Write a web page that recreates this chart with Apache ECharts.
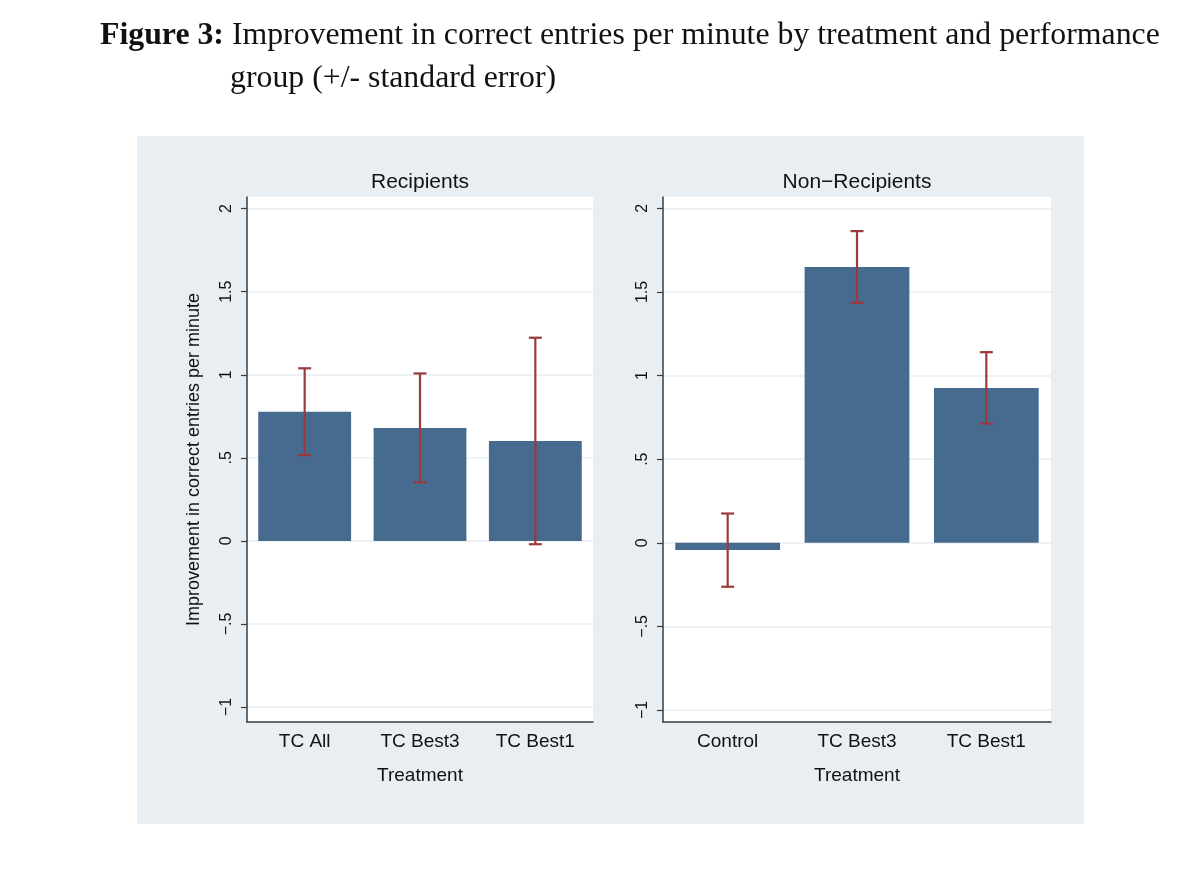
<!DOCTYPE html>
<html>
<head>
<meta charset="utf-8">
<script src="https://cdn.jsdelivr.net/npm/echarts@6/dist/echarts.min.js"></script>
<style>
html,body{margin:0;padding:0;background:#ffffff;}
#chart{width:1200px;height:887px;}
</style>
</head>
<body>
<div id="chart"></div>
<script>
// ---- data ----
var recipCategories = ['TC All', 'TC Best3', 'TC Best1'];
var recipMeans = [0.777, 0.680, 0.602];
var recipLow = [0.516, 0.352, -0.020];
var recipHigh = [1.039, 1.008, 1.223];

var nonRecipCategories = ['Control', 'TC Best3', 'TC Best1'];
var nonRecipMeans = [-0.044, 1.650, 0.926];
var nonRecipLow = [-0.263, 1.435, 0.713];
var nonRecipHigh = [0.175, 1.864, 1.140];

var yTickValues = [-1, -0.5, 0, 0.5, 1, 1.5, 2];
var yTickLabels = ['\u22121', '\u2212.5', '0', '.5', '1', '1.5', '2'];

var panelTitles = ['Recipients', 'Non\u2212Recipients'];
var yTitle = 'Improvement in correct entries per minute';
var xTitle = 'Treatment';

// ---- helpers ----
function fmtTick(v) {
  for (var i = 0; i < yTickValues.length; i++) {
    if (Math.abs(yTickValues[i] - v) < 1e-6) return yTickLabels[i];
  }
  return '';
}
function errData(low, high) {
  return low.map(function (l, i) { return [i, l, high[i]]; });
}
function errRender(params, api) {
  var x = api.value(0);
  var lo = api.coord([x, api.value(1)]);
  var hi = api.coord([x, api.value(2)]);
  var half = 6.5;
  var style = { stroke: '#9b3a3d', lineWidth: 2.2 };
  return {
    type: 'group',
    children: [
      { type: 'line', shape: { x1: hi[0], y1: hi[1], x2: lo[0], y2: lo[1] }, style: style },
      { type: 'line', shape: { x1: hi[0] - half, y1: hi[1], x2: hi[0] + half, y2: hi[1] }, style: style },
      { type: 'line', shape: { x1: lo[0] - half, y1: lo[1], x2: lo[0] + half, y2: lo[1] }, style: style }
    ]
  };
}
var fontSans = 'Liberation Sans, Arial, Helvetica, sans-serif';
var fontSerif = 'Liberation Serif, Times New Roman, serif';

function xAxisCfg(gi, cats) {
  return {
    type: 'category', gridIndex: gi, data: cats,
    axisLine: { show: true, onZero: false, lineStyle: { color: '#3a3a3a', width: 1.5 } },
    axisTick: { show: false },
    axisLabel: { color: '#111', fontSize: 19, fontFamily: fontSans, margin: 10 },
    name: xTitle, nameLocation: 'middle', nameGap: 44,
    nameTextStyle: { color: '#111', fontSize: 19, fontFamily: fontSans },
    splitLine: { show: false }
  };
}
function yAxisCfg(gi, mn, mx, withName) {
  var cfg = {
    type: 'value', gridIndex: gi, min: mn, max: mx,
    axisLine: { show: true, lineStyle: { color: '#3a3a3a', width: 1.5 } },
    axisTick: { show: true, length: 6, inside: false, customValues: yTickValues, lineStyle: { color: '#3a3a3a', width: 1.2 } },
    axisLabel: { customValues: yTickValues, rotate: 90, margin: 12, color: '#111', fontSize: 16, fontFamily: fontSans, formatter: fmtTick },
    splitLine: { show: true, lineStyle: { color: '#e9eef2', width: 1.5 } }
  };
  if (withName) {
    cfg.name = yTitle;
    cfg.nameLocation = 'middle';
    cfg.nameRotate = 90;
    cfg.nameGap = 44;
    cfg.nameTextStyle = { color: '#111', fontSize: 18, fontFamily: fontSans };
  }
  return cfg;
}

var option = {
  animation: false,
  backgroundColor: '#ffffff',
  graphic: [
    { type: 'rect', z: -10, silent: true, shape: { x: 137, y: 136, width: 947, height: 688 }, style: { fill: '#e9eef2' } }
  ],
  title: [
    {
      left: 95, top: 15,
      text: '{b|Figure 3:} Improvement in correct entries per minute by treatment and performance',
      textStyle: { fontFamily: fontSerif, fontSize: 31.8, fontWeight: 'normal', color: '#111',
        rich: { b: { fontFamily: fontSerif, fontSize: 31.8, fontWeight: 'bold', color: '#111' } } }
    },
    {
      left: 225, top: 58,
      text: 'group (+/- standard error)',
      textStyle: { fontFamily: fontSerif, fontSize: 31.8, fontWeight: 'normal', color: '#111' }
    },
    {
      left: 415, top: 167, textAlign: 'center',
      text: panelTitles[0],
      textStyle: { fontFamily: fontSans, fontSize: 21, fontWeight: 'normal', color: '#111' }
    },
    {
      left: 852, top: 167, textAlign: 'center',
      text: panelTitles[1],
      textStyle: { fontFamily: fontSans, fontSize: 21, fontWeight: 'normal', color: '#111' }
    }
  ],
  grid: [
    { left: 247, top: 197, width: 346, height: 525, show: true, backgroundColor: '#ffffff', borderWidth: 0 },
    { left: 663, top: 197, width: 388, height: 525, show: true, backgroundColor: '#ffffff', borderWidth: 0 }
  ],
  xAxis: [xAxisCfg(0, recipCategories), xAxisCfg(1, nonRecipCategories)],
  yAxis: [yAxisCfg(0, -1.09, 2.07, true), yAxisCfg(1, -1.072, 2.068, false)],
  series: [
    { type: 'bar', xAxisIndex: 0, yAxisIndex: 0, data: recipMeans, barWidth: '80.5%',
      itemStyle: { color: '#476a8f' } },
    { type: 'bar', xAxisIndex: 1, yAxisIndex: 1, data: nonRecipMeans, barWidth: '81%',
      itemStyle: { color: '#476a8f' } },
    { type: 'custom', xAxisIndex: 0, yAxisIndex: 0, data: errData(recipLow, recipHigh),
      renderItem: errRender, encode: { x: 0, y: [1, 2] }, z: 5 },
    { type: 'custom', xAxisIndex: 1, yAxisIndex: 1, data: errData(nonRecipLow, nonRecipHigh),
      renderItem: errRender, encode: { x: 0, y: [1, 2] }, z: 5 }
  ]
};

var chart = echarts.init(document.getElementById('chart'));
chart.setOption(option);
</script>
</body>
</html>
